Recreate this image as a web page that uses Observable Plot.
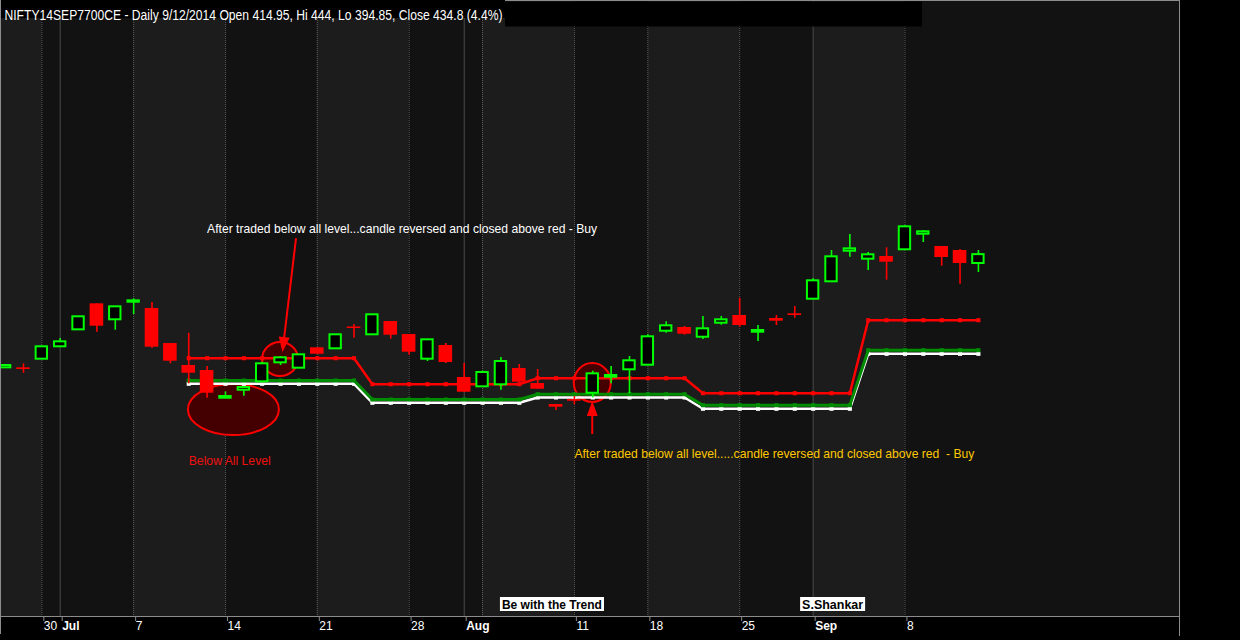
<!DOCTYPE html>
<html>
<head>
<meta charset="utf-8">
<script src="https://cdn.jsdelivr.net/npm/d3@7"></script>
<script src="https://cdn.jsdelivr.net/npm/@observablehq/plot@0.6"></script>
<style>
  html, body { margin: 0; padding: 0; background: #000; }
  #chart { width: 1240px; height: 640px; overflow: hidden; }
  #chart svg { display: block; }
</style>
</head>
<body>
<div id="chart"></div>
<script>
// ---------- data ----------
const dates = [
  "2014-06-26","2014-06-27","2014-06-30","2014-07-01","2014-07-02","2014-07-03","2014-07-04",
  "2014-07-07","2014-07-08","2014-07-09","2014-07-10","2014-07-11",
  "2014-07-14","2014-07-15","2014-07-16","2014-07-17","2014-07-18",
  "2014-07-21","2014-07-22","2014-07-23","2014-07-24","2014-07-25",
  "2014-07-28","2014-07-30","2014-07-31","2014-08-01",
  "2014-08-04","2014-08-05","2014-08-06","2014-08-07","2014-08-08",
  "2014-08-11","2014-08-12","2014-08-13","2014-08-14",
  "2014-08-18","2014-08-19","2014-08-20","2014-08-21","2014-08-22",
  "2014-08-25","2014-08-26","2014-08-27","2014-08-28",
  "2014-09-01","2014-09-02","2014-09-03","2014-09-04","2014-09-05",
  "2014-09-08","2014-09-09","2014-09-10","2014-09-11","2014-09-12"
];
const openP = [
  181.9,181.9,201.2,228.9,266.8,324.9,289.2,
  328.5,314.4,236.2,187.1,175.9,
  114.0,131.9,150.7,193.1,181.1,
  226.6,224.4,273.1,255.7,285.4,
  256.3,201.2,231.8,160.3,
  139.5,144.0,180.4,146.9,100.0,
  111.1,125.2,161.0,177.5,
  187.8,263.7,272.0,250.3,281.6,
  298.8,261.5,292.1,302.6,
  335.2,374.1,442.4,424.6,430.6,
  445.6,480.4,452.9,444.0,414.95
];
const highP = [
  189.3,190.9,228.9,247.4,295.9,324.9,318.2,
  336.1,327.8,236.2,259.2,184.9,
  128.3,140.2,194.5,207.2,211.0,
  226.6,255.7,278.7,300.4,285.4,
  256.3,244.5,236.2,191.6,
  174.4,205.0,189.3,178.2,100.0,
  117.8,174.4,184.9,207.2,
  255.7,284.7,274.2,296.6,296.6,
  337.4,276.4,298.8,318.9,
  380.8,444.0,479.7,439.5,450.0,
  499.8,488.7,452.9,446.2,444
];
const lowP = [
  181.9,169.9,201.2,228.9,266.8,261.5,266.0,
  301.0,225.7,190.9,146.2,114.0,
  113.4,118.5,150.7,187.1,181.1,
  212.3,224.4,248.1,255.7,245.8,
  210.1,196.0,191.6,127.4,
  139.5,131.9,149.8,134.1,86.6,
  99.3,114.9,146.2,123.9,
  187.8,259.2,254.8,245.2,277.1,
  272.7,240.7,276.4,292.8,
  335.2,374.1,429.0,399.3,377.7,
  445.6,461.9,408.9,368.7,394.85
];
const closeP = [
  187.1,178.2,228.9,240.0,295.9,274.9,318.2,
  331.6,228.0,196.7,169.9,125.2,
  117.8,137.9,190.9,204.3,211.0,
  212.3,255.7,269.7,300.4,254.8,
  216.8,244.5,193.8,127.4,
  171.5,196.0,149.8,134.1,93.9,
  107.3,168.5,164.7,197.6,
  251.2,275.8,257.0,269.1,289.2,
  276.4,265.3,286.1,298.8,
  376.3,429.9,447.8,434.4,417.9,
  496.9,485.8,428.4,415.0,434.8
];
const redLevel = [
  null,null,null,null,null,null,null,null,null,null,
  203.4,203.4,203.4,203.4,203.4,203.4,203.4,203.4,203.4,203.4,
  145.3,145.3,145.3,145.3,145.3,145.3,145.3,145.3,145.3,
  158.7,158.7,158.7,158.7,158.7,158.7,158.7,158.7,158.7,
  125.2,125.2,125.2,125.2,125.2,125.2,125.2,125.2,125.2,
  288.3,288.3,288.3,288.3,288.3,288.3,288.3
];
const greenLevel = [
  null,null,null,null,null,null,null,null,null,null,
  153.6,153.6,153.6,153.6,153.6,153.6,153.6,153.6,153.6,153.6,
  111.1,111.1,111.1,111.1,111.1,111.1,111.1,111.1,111.1,
  123.0,123.0,123.0,123.0,123.0,123.0,123.0,123.0,123.0,
  98.4,98.4,98.4,98.4,98.4,98.4,98.4,98.4,98.4,
  221.3,221.3,221.3,221.3,221.3,221.3,221.3
];
const whiteLevel = [
  null,null,null,null,null,null,null,null,null,null,
  146.2,146.2,146.2,146.2,146.2,146.2,146.2,146.2,146.2,146.2,
  103.8,103.8,103.8,103.8,103.8,103.8,103.8,103.8,103.8,
  115.6,115.6,115.6,115.6,115.6,115.6,115.6,115.6,115.6,
  90.4,90.4,90.4,90.4,90.4,90.4,90.4,90.4,90.4,
  213.2,213.2,213.2,213.2,213.2,213.2,213.2
];
const tickDates  = ["2014-06-30","2014-07-01","2014-07-07","2014-07-14","2014-07-21","2014-07-28","2014-08-01","2014-08-11","2014-08-18","2014-08-25","2014-09-01","2014-09-08"];
const tickLabels = ["30","Jul","7","14","21","28","Aug","11","18","25","Sep","8"];
const monthLabels = ["Jul","Aug","Sep"];
const titleText  = "NIFTY14SEP7700CE - Daily 9/12/2014 Open 414.95, Hi 444, Lo 394.85, Close 434.8 (4.4%)";
const noteTop    = "After traded below all level...candle reversed and closed above red - Buy";
const noteBottom = "After traded below all level.....candle reversed and closed above red  - Buy";
const noteBelow  = "Below All Level";
const signLeft   = "Be with the Trend";
const signRight  = "S.Shankar";

// ---------- derived tables ----------
const RED = "#ff0000", GREEN = "#00ff00", LEVEL_GREEN = "#008c00";
const idxOf = new Map(dates.map((d, i) => [d, i]));
const candles = dates.map((date, i) => ({
  i, date, open: openP[i], high: highP[i], low: lowP[i], close: closeP[i], up: closeP[i] >= openP[i]
}));
const levels = dates.map((date, i) => ({ i, red: redLevel[i], green: greenLevel[i], white: whiteLevel[i] }));
const dows = dates.map(d => new Date(d + "T00:00:00Z").getUTCDay());
const weekStarts = dates.map((d, i) => i).filter(i => i > 0 && dows[i] < dows[i - 1]);
const monthStarts = dates.map((d, i) => i).filter(i => i > 0 && dates[i].slice(5, 7) !== dates[i - 1].slice(5, 7));
const dotted = weekStarts.filter(i => !monthStarts.includes(i));
const X0 = -0.25, X1 = 63.95;
const bounds = [X0, ...weekStarts, X1];
const bands = bounds.slice(0, -1).map((b, k) => ({ x1: b, x2: bounds[k + 1], fill: k % 2 === 0 ? "#1c1c1c" : "#121212" }));
const ticks = tickDates.map((d, k) => ({ i: idxOf.get(d), label: tickLabels[k], month: monthLabels.includes(tickLabels[k]) }));
const labelOf = new Map(ticks.map(t => [t.i, t.label]));
const dayTickIdx = ticks.filter(t => !t.month).map(t => t.i);
const monTickIdx = ticks.filter(t => t.month).map(t => t.i);

// ---------- custom marks ----------
const ellipseMark = (index, scales) => {
  const g = d3.create("svg:g");
  const shapes = [
    { i: 12.46, v: 87.7, rx: 45.5, ry: 25.5 },
    { i: 15, v: 200.5, rx: 18, ry: 17 },
    { i: 32, v: 148, rx: 18.5, ry: 19.5 }
  ];
  for (const s of shapes) {
    g.append("ellipse")
      .attr("cx", scales.x(s.i)).attr("cy", scales.y(s.v))
      .attr("rx", s.rx).attr("ry", s.ry)
      .attr("fill", "#440000").attr("stroke", RED).attr("stroke-width", 2);
  }
  return g.node();
};
const arrowMark = (from, to) => (index, scales) => {
  const x0 = scales.x(from[0]), y0 = scales.y(from[1]);
  const x1 = scales.x(to[0]), y1 = scales.y(to[1]);
  const a = Math.atan2(y1 - y0, x1 - x0), len = 15, half = 5.5;
  const bx = x1 - len * Math.cos(a), by = y1 - len * Math.sin(a);
  const px = -Math.sin(a) * half, py = Math.cos(a) * half;
  const g = d3.create("svg:g");
  g.append("line").attr("x1", x0).attr("y1", y0).attr("x2", bx).attr("y2", by)
    .attr("stroke", RED).attr("stroke-width", 2);
  g.append("path").attr("d", `M${x1},${y1}L${bx + px},${by + py}L${bx - px},${by - py}Z`).attr("fill", RED);
  return g.node();
};
const chromeMark = (index, scales, values, dims) => {
  const g = d3.create("svg:g");
  const right = dims.width - dims.marginRight, bottom = dims.height - dims.marginBottom;
  g.append("line").attr("x1", 0).attr("x2", right).attr("y1", 0.5).attr("y2", 0.5).attr("stroke", "#8c8c8c");
  g.append("rect").attr("x", 0).attr("y", 0).attr("width", 505).attr("height", 18).attr("fill", "#000");
  g.append("rect").attr("x", 505).attr("y", 1.5).attr("width", 417).attr("height", 25).attr("fill", "#000");
  g.append("line").attr("x1", 0).attr("x2", right).attr("y1", bottom + 0.5).attr("y2", bottom + 0.5).attr("stroke", "#8c8c8c");
  g.append("line").attr("x1", 0.5).attr("x2", 0.5).attr("y1", 0).attr("y2", 634).attr("stroke", "#8c8c8c");
  g.append("line").attr("x1", right + 0.5).attr("x2", right + 0.5).attr("y1", 0).attr("y2", 636).attr("stroke", "#8c8c8c");
  return g.node();
};

const FONT = "'Liberation Sans', Arial, sans-serif";
const chart = Plot.plot({
  width: 1240, height: 640,
  marginLeft: 0, marginRight: 61, marginTop: 0, marginBottom: 24,
  style: { background: "#000", color: "#fff", fontFamily: FONT },
  x: { type: "linear", domain: [X0, X1], range: [0, 1179], axis: null },
  y: { type: "linear", domain: [-373.6, 1002.5], range: [616, 0], axis: null },
  color: { type: "identity" },
  marks: [
    Plot.rect(bands, { x1: "x1", x2: "x2", fill: "fill" }),
    Plot.ruleX(dotted, { stroke: "#5e5e5e", strokeDasharray: "1,1" }),
    Plot.ruleX(monthStarts, { stroke: "#4a4a4a" }),
    ellipseMark,
    Plot.line(levels, { x: "i", y: "white", stroke: "#ffffff", strokeWidth: 2.5 }),
    Plot.dot(levels, { x: "i", y: "white", symbol: "square", r: 2.3, fill: "#ffffff" }),
    Plot.line(levels, { x: "i", y: "green", stroke: LEVEL_GREEN, strokeWidth: 3 }),
    Plot.dot(levels, { x: "i", y: "green", symbol: "square", r: 2.3, fill: LEVEL_GREEN }),
    Plot.line(levels, { x: "i", y: "red", stroke: RED, strokeWidth: 2.5 }),
    Plot.dot(levels, { x: "i", y: "red", symbol: "square", r: 2.3, fill: RED }),
    Plot.ruleX(candles, { x: "i", y1: "low", y2: "high", stroke: d => d.up ? GREEN : RED, strokeWidth: 1.6 }),
    Plot.rect(candles.filter(d => !d.up), { x1: d => d.i - 0.37, x2: d => d.i + 0.37, y1: "open", y2: "close", fill: RED }),
    Plot.rect(candles.filter(d => d.up), { x1: d => d.i - 0.31, x2: d => d.i + 0.31, y1: "open", y2: "close", fill: "#000", stroke: GREEN, strokeWidth: 2 }),
    arrowMark([15.87, 470.8], [15.13, 216.1]),
    arrowMark([32, 32.9], [32, 106.7]),
    Plot.text([noteTop], { x: 11, y: 493.1, text: d => d, textAnchor: "start", fill: "#ffffff", fontSize: 13 }),
    Plot.text([noteBottom], { x: 31, y: -9.5, text: d => d, textAnchor: "start", fill: "#ffc800", fontSize: 13 }),
    Plot.text([noteBelow], { x: 10, y: -27.4, text: d => d, textAnchor: "start", fill: "#f01010", fontSize: 12 }),
    chromeMark,
    Plot.text([titleText], { frameAnchor: "top-left", dx: 4, dy: 10, text: d => d, textAnchor: "start", fill: "#ffffff", fontSize: 14 }),
    Plot.axisX({ ticks: dayTickIdx, tickFormat: i => labelOf.get(i), tickSize: 5, tickPadding: 0, textAnchor: "start", dx: 2, dy: 0, stroke: "#8c8c8c", fill: "#ffffff", fontSize: 12, label: null }),
    Plot.axisX({ ticks: monTickIdx, tickFormat: i => labelOf.get(i), tickSize: 5, tickPadding: 0, textAnchor: "start", dx: 2, dy: 0, stroke: "#8c8c8c", fill: "#ffffff", fontSize: 12, fontWeight: "bold", label: null }),
    Plot.text([signLeft], { x: 27, frameAnchor: "bottom", dy: -8, dx: 1, text: d => d, textAnchor: "start", fill: "#000", fontSize: 13, fontWeight: "bold" }),
    Plot.text([signRight], { x: 43.4, frameAnchor: "bottom", dy: -8, dx: 0, text: d => d, textAnchor: "start", fill: "#000", fontSize: 13, fontWeight: "bold" })
  ]
});
document.getElementById("chart").append(chart);

// ---------- text fitting & label boxes ----------
const fitText = (txt, w) => {
  for (const t of chart.querySelectorAll("text")) {
    if (t.textContent === txt) {
      t.setAttribute("textLength", w);
      t.setAttribute("lengthAdjust", "spacingAndGlyphs");
      t.style.whiteSpace = "pre";
    }
  }
};
fitText(titleText, 498);
fitText(noteTop, 390);
fitText(noteBottom, 400);
fitText(noteBelow, 82);
fitText(signLeft, 100);
fitText(signRight, 61);
for (const txt of [signLeft, signRight]) {
  for (const t of chart.querySelectorAll("text")) {
    if (t.textContent === txt) {
      const b = t.getBBox();
      const r = document.createElementNS("http://www.w3.org/2000/svg", "rect");
      r.setAttribute("x", b.x - 2); r.setAttribute("y", b.y + 0.5);
      r.setAttribute("width", b.width + 4); r.setAttribute("height", b.height - 1);
      r.setAttribute("fill", "#fff");
      if (t.getAttribute("transform")) r.setAttribute("transform", t.getAttribute("transform"));
      t.parentNode.insertBefore(r, t);
    }
  }
}
</script>
</body>
</html>
